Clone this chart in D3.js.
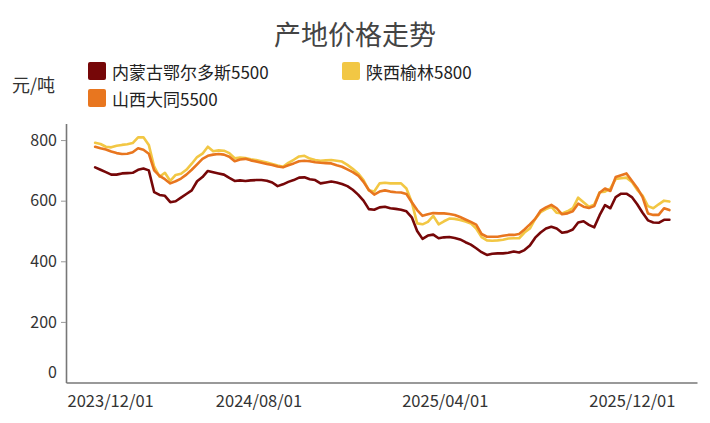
<!DOCTYPE html>
<html>
<head>
<meta charset="utf-8">
<script src="https://cdn.jsdelivr.net/npm/d3@7"></script>
<style>
  html, body { margin: 0; padding: 0; background: #fff; }
  svg { display: block; font-family: "Noto Sans CJK SC", "Noto Sans", sans-serif; }
</style>
</head>
<body>
<svg id="chart" width="710" height="423"></svg>
<script>
// ---- data ----
const title = "产地价格走势";
const unitLabel = "元/吨";
const seriesNames = ["内蒙古鄂尔多斯5500", "陕西榆林5800", "山西大同5500"];
const seriesColors = ["#760708", "#f2c744", "#e8761f"];
const startDate = "2024-01-01";   // weekly observations from this date
const xTickLabels = ["2023/12/01", "2024/08/01", "2025/04/01", "2025/12/01"];
const yTickValues = [0, 200, 400, 600, 800];

const neimenggu = [710,702,694,686,686,690,691,692,702,706,700,628,619,616,595,598,610,622,634,664,
  678,698,694,690,686,675,665,667,665,667,668,668,666,660,648,654,662,668,676,677,
  671,668,657,660,663,660,655,648,636,620,600,572,570,578,580,575,573,570,565,545,
  500,474,485,488,476,479,480,477,472,463,455,443,430,421,425,426,426,428,432,429,
  437,452,478,495,508,514,508,494,497,505,528,532,520,512,552,585,575,612,623,623,
  612,588,560,535,528,527,537,537];
const shaanxi = [791,787,778,776,781,784,786,790,809,809,784,712,679,692,665,685,689,702,722,744,
  755,778,763,766,765,757,740,742,741,737,734,730,726,721,716,712,725,735,746,748,
  739,734,732,733,734,732,729,718,705,690,668,634,630,657,659,657,657,657,640,595,
  525,522,530,550,522,532,541,540,536,531,525,508,480,469,468,469,471,475,476,476,
  495,508,540,562,572,580,560,558,565,575,610,595,580,587,628,630,640,672,674,676,
  662,636,617,582,575,588,600,597];
const shanxi = [778,773,769,762,757,754,755,760,773,768,755,700,682,671,657,664,673,686,702,720,
  738,748,752,754,752,745,730,736,738,733,729,725,721,718,713,710,717,723,730,732,
  730,727,725,724,723,717,712,703,694,683,662,635,620,630,634,630,628,627,622,595,
  569,550,555,559,558,558,556,553,546,538,530,521,490,481,481,481,484,487,487,490,
  505,522,540,567,578,586,575,555,558,565,590,580,576,582,626,640,632,678,684,690,
  666,642,612,558,553,553,575,569];
const seriesValues = [neimenggu, shaanxi, shanxi];

// ---- layout ----
const svg = d3.select("#chart");
const parse = d3.timeParse("%Y-%m-%d");
const fmtIn = d3.timeParse("%Y/%m/%d");
const t0 = parse(startDate);
const dates = neimenggu.map((_, i) => d3.timeDay.offset(t0, 7 * i));

const plotLeft = 66, plotRight = 697, plotBottom = 382.5;
const x = d3.scaleTime()
  .domain([parse("2023-11-24"), parse("2026-02-24")])
  .range([plotLeft, plotRight]);
const y = d3.scaleLinear().domain([0, 855]).range([plotBottom, 123.4]);

// title
svg.append("text")
  .attr("x", 355).attr("y", 33)
  .attr("text-anchor", "middle").attr("dominant-baseline", "central")
  .attr("font-size", 27).attr("fill", "#444")
  .text(title);

// unit
svg.append("text")
  .attr("x", 12).attr("y", 84)
  .attr("dominant-baseline", "central")
  .attr("font-size", 18).attr("fill", "#333")
  .text(unitLabel);

// legend
const legendPos = [[88, 71], [342, 71], [88, 98]];
const lg = svg.append("g");
seriesNames.forEach((name, i) => {
  const [lx, ly] = legendPos[i];
  lg.append("rect").attr("x", lx).attr("y", ly - 9).attr("width", 18).attr("height", 18)
    .attr("rx", 2).attr("fill", seriesColors[i]);
  lg.append("text").attr("x", lx + 24).attr("y", ly)
    .attr("dominant-baseline", "central").attr("font-size", 17).attr("fill", "#222")
    .text(name);
});

// y axis
const yAxis = svg.append("g")
  .attr("transform", `translate(${plotLeft},0)`)
  .call(d3.axisLeft(y).tickValues(yTickValues).tickSize(5).tickSizeOuter(0).tickPadding(4));
yAxis.select(".domain").attr("stroke", "#777").attr("stroke-width", 1.6);
yAxis.selectAll(".tick line").attr("stroke", "#999");
yAxis.selectAll(".tick text").attr("font-size", 16).attr("fill", "#333")
  .attr("font-family", "'Noto Sans CJK SC', sans-serif");
yAxis.selectAll(".tick").filter(d => d === 0).select("line").remove();
yAxis.selectAll(".tick").filter(d => d === 0).select("text").attr("dy", "-0.3em");

// x axis
const xTicks = xTickLabels.map(s => fmtIn(s));
const xAxis = svg.append("g")
  .attr("transform", `translate(0,${plotBottom})`)
  .call(d3.axisBottom(x).tickValues(xTicks).tickFormat(d3.timeFormat("%Y/%m/%d"))
    .tickSize(0).tickSizeOuter(0).tickPadding(13));
xAxis.select(".domain").attr("stroke", "#777").attr("stroke-width", 1.6);
xAxis.selectAll(".tick text").attr("font-size", 16.5).attr("fill", "#333")
  .attr("font-family", "'Noto Sans CJK SC', sans-serif");
// first label is kept inside the axis start
xAxis.selectAll(".tick").filter((d, i) => i === 0).select("text")
  .attr("text-anchor", "start")
  .attr("x", plotLeft + 1 - x(xTicks[0]));

// lines
const line = d3.line()
  .x((d, i) => x(dates[i]))
  .y(d => y(d));
seriesValues.forEach((vals, i) => {
  svg.append("path")
    .datum(vals)
    .attr("fill", "none")
    .attr("stroke", seriesColors[i])
    .attr("stroke-width", 2.6)
    .attr("stroke-linejoin", "round")
    .attr("stroke-linecap", "round")
    .attr("d", line);
});
</script>
</body>
</html>
